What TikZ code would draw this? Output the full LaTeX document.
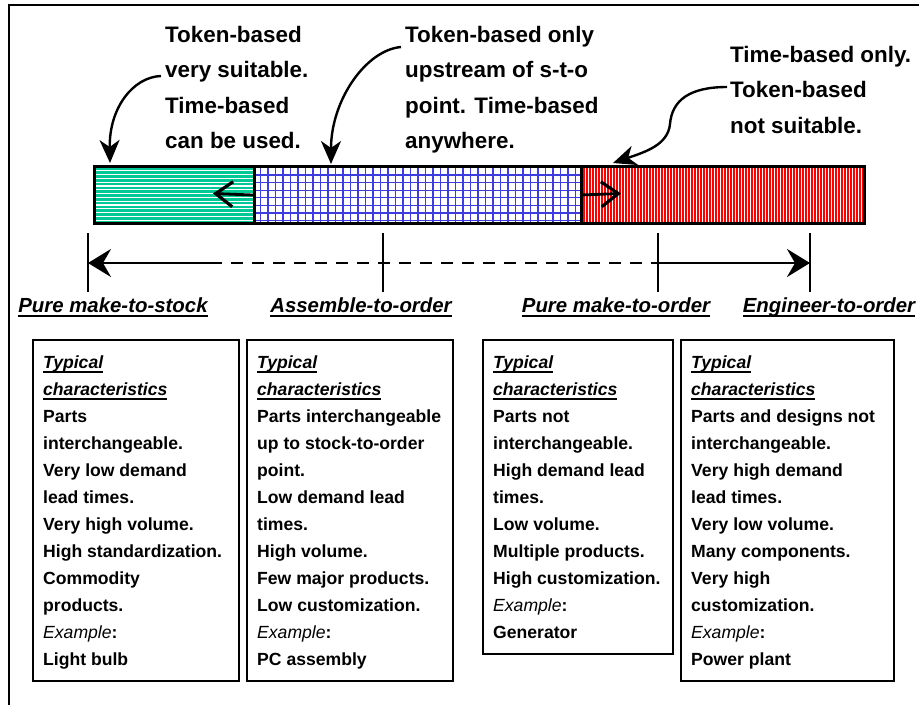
\documentclass[tikz,border=0pt]{standalone}
\usepackage{fontspec}
\setmainfont{Liberation Sans}
\usetikzlibrary{arrows.meta}

\definecolor{stgreen}{RGB}{0,200,150}
\definecolor{gridblue}{RGB}{60,60,225}
\definecolor{stred}{RGB}{255,0,0}

% left-aligned block of lines; the block's baseline is its first line
\newcommand{\stk}[2]{\vtop{\baselineskip=#1\relax\lineskiplimit=-50pt\lineskip=0pt
  \halign{##\hfil\cr#2\crcr}}}
% underline at a fixed depth below the baseline
\newcommand{\ulin}[1]{\setbox0\hbox{#1}\rlap{\rule[-4.8pt]{\wd0}{1.8pt}}\box0}

\tikzset{
  toptext/.style={anchor=base west, inner sep=0pt,
    font=\fontsize{22.4}{35.5}\selectfont\bfseries},
  boxtext/.style={anchor=base west, inner sep=0pt,
    font=\fontsize{17.6}{27}\selectfont\bfseries},
  scalelabel/.style={anchor=base, inner sep=0pt,
    font=\fontsize{20.4}{24}\selectfont\bfseries\itshape},
  charbox/.style={draw, line width=1.8pt, anchor=north west, inner sep=0pt},
  barseg/.style={draw, line width=3pt, anchor=north west, inner sep=0pt,
    minimum height=57pt},
  callout/.style={line width=2.4pt,
    -{Stealth[length=23pt,width=20pt,inset=7pt]}},
  barb/.style={line width=2.8pt,
    -{Straight Barb[length=17pt,width=25pt,line width=3.2pt]}},
  tlarrow/.style={line width=2.6pt,
    -{Stealth[length=23pt,width=28pt,inset=8pt]}},
  tldash/.style={line width=2.6pt, dash pattern=on 12pt off 9pt},
  tick/.style={line width=1.3pt},
}

\begin{document}
\begin{tikzpicture}[x=1pt,y=-1pt]
\useasboundingbox (0,0) rectangle (919,705);

% frame
\draw[line width=1.5pt] (9,705) -- (9,5) -- (919,5);

% --- bar fills ---
\begin{scope}
  \clip (93,165) rectangle (253,222);
  \fill[stgreen] (93,165) rectangle (253,222);
  \foreach \y in {167,170.8,...,222}
    \draw[white, line width=1.1pt] (93,\y) -- (253,\y);
\end{scope}
\begin{scope}
  \clip (253,165) rectangle (580,222);
  \fill[white] (253,165) rectangle (580,222);
  \foreach \x in {260.5,268,...,580}
    \draw[gridblue, line width=1.1pt] (\x,165) -- (\x,222);
  \foreach \y in {175,182.6,...,222}
    \draw[gridblue, line width=1.1pt] (253,\y) -- (580,\y);
\end{scope}
\begin{scope}
  \clip (580,165) rectangle (863,222);
  \fill[stred] (580,165) rectangle (863,222);
  \foreach \x in {582,585,...,863}
    \draw[white, line width=0.8pt] (\x,165) -- (\x,222);
\end{scope}

% bar segments
\node[barseg, minimum width=160pt] (mts) at (93,165) {};
\node[barseg, minimum width=327pt] (ato) at (253,165) {};
\node[barseg, minimum width=283pt] (mto) at (580,165) {};

% push arrows inside the bar
\coordinate (lefttip) at (213,193.5);
\coordinate (righttip) at (621,193.5);
\draw[barb] (ato.west) -- (lefttip);
\draw[barb] (mto.west) -- (righttip);

% --- callout texts ---
\node[toptext] (t1) at (165,42) {\stk{35.5pt}{Token-based\cr very suitable.\cr Time-based\cr can be used.}};
\node[toptext] (t2) at (405,42) {\stk{35.5pt}{Token-based only\cr upstream of s-t-o\cr point. Time-based\cr anywhere.}};
\node[toptext] (t3) at (730,62) {\stk{35.5pt}{Time-based only.\cr Token-based\cr not suitable.}};

\coordinate (s1) at (161,76);
\coordinate (s2) at (401,47);
\coordinate (s3) at (727,87);
\coordinate (e1) at (110,163);
\coordinate (e2) at (331,164);
\coordinate (e3) at (613,163);

\draw[callout] (s1) .. controls (133,77) and (109,108) .. (e1);
\draw[callout] (s2) .. controls (366,50) and (331,100) .. (e2);
\draw[callout] (s3) .. controls (690,87) and (672,100) .. (670,124)
               .. controls (668,145) and (645,152) .. (e3);

% --- timeline ---
\coordinate (p1) at (88,263);
\coordinate (p2) at (383,263);
\coordinate (p3) at (658,263);
\coordinate (p4) at (810,263);
\coordinate (ds) at (210,263);
\foreach \p in {p1,p2,p3,p4}
  \draw[tick] (\p) ++(0,-30) -- ++(0,59);
\draw[tldash] (ds) -- (p3);
\draw[tlarrow] (ds) -- (p1);
\draw[tlarrow] (p3) -- (p4);

\node[scalelabel] (l1) at (113,312) {\ulin{Pure make-to-stock}};
\node[scalelabel] (l2) at (361,312) {\ulin{Assemble-to-order}};
\node[scalelabel] (l3) at (616,312) {\ulin{Pure make-to-order}};
\node[scalelabel] (l4) at (829,312) {\ulin{Engineer-to-order}};

% --- characteristic boxes ---
\node[charbox, minimum width=206pt, minimum height=341pt] (b1) at (32,339) {};
\node[charbox, minimum width=206pt, minimum height=341pt] (b2) at (246,339) {};
\node[charbox, minimum width=190pt, minimum height=314pt] (b3) at (482,339) {};
\node[charbox, minimum width=213pt, minimum height=341pt] (b4) at (680,339) {};

\node[boxtext] (c1) at (43,368) {\stk{27pt}{%
  \itshape\ulin{Typical}\cr \itshape\ulin{characteristics}\cr
  Parts\cr interchangeable.\cr Very low demand\cr lead times.\cr
  Very high volume.\cr High standardization.\cr Commodity\cr products.\cr
  {\mdseries\itshape Example}:\cr Light bulb}};
\node[boxtext] (c2) at (257,368) {\stk{27pt}{%
  \itshape\ulin{Typical}\cr \itshape\ulin{characteristics}\cr
  Parts interchangeable\cr up to stock-to-order\cr point.\cr Low demand lead\cr
  times.\cr High volume.\cr Few major products.\cr Low customization.\cr
  {\mdseries\itshape Example}:\cr PC assembly}};
\node[boxtext] (c3) at (493,368) {\stk{27pt}{%
  \itshape\ulin{Typical}\cr \itshape\ulin{characteristics}\cr
  Parts not\cr interchangeable.\cr High demand lead\cr times.\cr
  Low volume.\cr Multiple products.\cr High customization.\cr
  {\mdseries\itshape Example}:\cr Generator}};
\node[boxtext] (c4) at (691,368) {\stk{27pt}{%
  \itshape\ulin{Typical}\cr \itshape\ulin{characteristics}\cr
  Parts and designs not\cr interchangeable.\cr Very high demand\cr lead times.\cr
  Very low volume.\cr Many components.\cr Very high\cr customization.\cr
  {\mdseries\itshape Example}:\cr Power plant}};
\end{tikzpicture}
\end{document}
